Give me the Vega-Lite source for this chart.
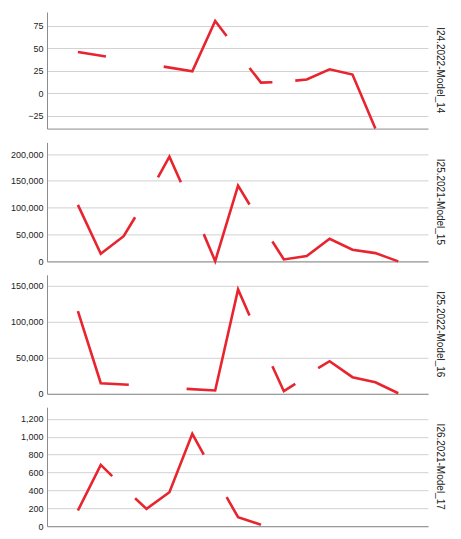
{
  "$schema": "https://vega.github.io/schema/vega-lite/v6.json",
  "padding": {"left": 10, "top": 12, "right": 5, "bottom": 5},
  "background": "white",
  "config": {
    "font": "Liberation Sans",
    "view": {"stroke": null},
    "axis": {"labelFontSize": 9, "labelColor": "#222222", "gridColor": "#d2d2d2", "gridWidth": 1, "domainColor": "#8c8c8c", "domainWidth": 1, "ticks": false, "tickSize": 0, "labelPadding": 4},
    "title": {"orient": "right", "angle": 90, "anchor": "middle", "fontSize": 10, "fontWeight": "normal", "color": "#222222", "font": "Liberation Sans", "offset": 7, "baseline": "top"},
    "line": {"color": "#e8242f", "strokeWidth": 2.6, "clip": true}
  },
  "data": {
    "values": [
      {"model": "I24.2022-Model_14", "seg": "a", "period": 0, "value": 45.7},
      {"model": "I24.2022-Model_14", "seg": "a", "period": 2.45, "value": 40.6},
      {"model": "I24.2022-Model_14", "seg": "b", "period": 7.5, "value": 29.5},
      {"model": "I24.2022-Model_14", "seg": "b", "period": 10, "value": 24.3},
      {"model": "I24.2022-Model_14", "seg": "b", "period": 12, "value": 80.0},
      {"model": "I24.2022-Model_14", "seg": "b", "period": 13, "value": 63.4},
      {"model": "I24.2022-Model_14", "seg": "c", "period": 15, "value": 28.0},
      {"model": "I24.2022-Model_14", "seg": "c", "period": 16, "value": 11.8},
      {"model": "I24.2022-Model_14", "seg": "c", "period": 17, "value": 12.2},
      {"model": "I24.2022-Model_14", "seg": "d", "period": 19, "value": 14.0},
      {"model": "I24.2022-Model_14", "seg": "d", "period": 20, "value": 15.2},
      {"model": "I24.2022-Model_14", "seg": "d", "period": 22, "value": 26.5},
      {"model": "I24.2022-Model_14", "seg": "d", "period": 24, "value": 20.7},
      {"model": "I24.2022-Model_14", "seg": "d", "period": 26, "value": -39},
      {"model": "I25.2021-Model_15", "seg": "a", "period": 0, "value": 105400},
      {"model": "I25.2021-Model_15", "seg": "a", "period": 2, "value": 14300},
      {"model": "I25.2021-Model_15", "seg": "a", "period": 4, "value": 47000},
      {"model": "I25.2021-Model_15", "seg": "a", "period": 5, "value": 82300},
      {"model": "I25.2021-Model_15", "seg": "b", "period": 7, "value": 156700},
      {"model": "I25.2021-Model_15", "seg": "b", "period": 8, "value": 195200},
      {"model": "I25.2021-Model_15", "seg": "b", "period": 9, "value": 147400},
      {"model": "I25.2021-Model_15", "seg": "c", "period": 11, "value": 50800},
      {"model": "I25.2021-Model_15", "seg": "c", "period": 12, "value": 600},
      {"model": "I25.2021-Model_15", "seg": "c", "period": 14, "value": 141300},
      {"model": "I25.2021-Model_15", "seg": "c", "period": 15, "value": 106000},
      {"model": "I25.2021-Model_15", "seg": "d", "period": 17, "value": 37200},
      {"model": "I25.2021-Model_15", "seg": "d", "period": 18, "value": 3700},
      {"model": "I25.2021-Model_15", "seg": "d", "period": 20, "value": 9900},
      {"model": "I25.2021-Model_15", "seg": "d", "period": 22, "value": 42200},
      {"model": "I25.2021-Model_15", "seg": "d", "period": 24, "value": 21700},
      {"model": "I25.2021-Model_15", "seg": "d", "period": 26, "value": 15400},
      {"model": "I25.2021-Model_15", "seg": "d", "period": 28, "value": 0},
      {"model": "I25.2022-Model_16", "seg": "a", "period": 0, "value": 114700},
      {"model": "I25.2022-Model_16", "seg": "a", "period": 2, "value": 14700},
      {"model": "I25.2022-Model_16", "seg": "a", "period": 4.45, "value": 12500},
      {"model": "I25.2022-Model_16", "seg": "b", "period": 9.5, "value": 6900},
      {"model": "I25.2022-Model_16", "seg": "b", "period": 12, "value": 4600},
      {"model": "I25.2022-Model_16", "seg": "b", "period": 14, "value": 144900},
      {"model": "I25.2022-Model_16", "seg": "b", "period": 15, "value": 108700},
      {"model": "I25.2022-Model_16", "seg": "c", "period": 17, "value": 38300},
      {"model": "I25.2022-Model_16", "seg": "c", "period": 18, "value": 3600},
      {"model": "I25.2022-Model_16", "seg": "c", "period": 19, "value": 13900},
      {"model": "I25.2022-Model_16", "seg": "d", "period": 21, "value": 35600},
      {"model": "I25.2022-Model_16", "seg": "d", "period": 22, "value": 45300},
      {"model": "I25.2022-Model_16", "seg": "d", "period": 24, "value": 23100},
      {"model": "I25.2022-Model_16", "seg": "d", "period": 26, "value": 16100},
      {"model": "I25.2022-Model_16", "seg": "d", "period": 28, "value": 800},
      {"model": "I26.2021-Model_17", "seg": "a", "period": 0, "value": 175},
      {"model": "I26.2021-Model_17", "seg": "a", "period": 2, "value": 686},
      {"model": "I26.2021-Model_17", "seg": "a", "period": 3, "value": 559},
      {"model": "I26.2021-Model_17", "seg": "b", "period": 5, "value": 313},
      {"model": "I26.2021-Model_17", "seg": "b", "period": 6, "value": 194},
      {"model": "I26.2021-Model_17", "seg": "b", "period": 8, "value": 380},
      {"model": "I26.2021-Model_17", "seg": "b", "period": 10, "value": 1032},
      {"model": "I26.2021-Model_17", "seg": "b", "period": 11, "value": 801},
      {"model": "I26.2021-Model_17", "seg": "c", "period": 13, "value": 324},
      {"model": "I26.2021-Model_17", "seg": "c", "period": 14, "value": 101},
      {"model": "I26.2021-Model_17", "seg": "c", "period": 16, "value": 16}
    ]
  },
  "bounds": "flush",
  "spacing": 13.4,
  "vconcat": [
    {
      "title": "I24.2022-Model_14",
      "transform": [{"filter": "datum.model === 'I24.2022-Model_14'"}],
      "width": 381, "height": 116.6,
      "mark": "line",
      "encoding": {
        "x": {"field": "period", "type": "quantitative", "scale": {"domain": [-2.7, 30.6], "nice": false, "zero": false}, "axis": {"labels": false, "grid": false, "title": null}},
        "y": {"field": "value", "type": "quantitative", "scale": {"domain": [-39.2, 90], "nice": false, "zero": false}, "axis": {"values": [-25, 0, 25, 50, 75], "format": ",d", "title": null}},
        "detail": {"field": "seg", "type": "nominal"}
      }
    },
    {
      "title": "I25.2021-Model_15",
      "transform": [{"filter": "datum.model === 'I25.2021-Model_15'"}],
      "width": 381, "height": 119,
      "mark": "line",
      "encoding": {
        "x": {"field": "period", "type": "quantitative", "scale": {"domain": [-2.7, 30.6], "nice": false, "zero": false}, "axis": {"labels": false, "grid": false, "title": null}},
        "y": {"field": "value", "type": "quantitative", "scale": {"domain": [0, 221700], "nice": false, "zero": false}, "axis": {"values": [0, 50000, 100000, 150000, 200000], "format": ",d", "title": null}},
        "detail": {"field": "seg", "type": "nominal"}
      }
    },
    {
      "title": "I25.2022-Model_16",
      "transform": [{"filter": "datum.model === 'I25.2022-Model_16'"}],
      "width": 381, "height": 119,
      "mark": "line",
      "encoding": {
        "x": {"field": "period", "type": "quantitative", "scale": {"domain": [-2.7, 30.6], "nice": false, "zero": false}, "axis": {"labels": false, "grid": false, "title": null}},
        "y": {"field": "value", "type": "quantitative", "scale": {"domain": [0, 165300], "nice": false, "zero": false}, "axis": {"values": [0, 50000, 100000, 150000], "format": ",d", "title": null}},
        "detail": {"field": "seg", "type": "nominal"}
      }
    },
    {
      "title": "I26.2021-Model_17",
      "transform": [{"filter": "datum.model === 'I26.2021-Model_17'"}],
      "width": 381, "height": 119,
      "mark": "line",
      "encoding": {
        "x": {"field": "period", "type": "quantitative", "scale": {"domain": [-2.7, 30.6], "nice": false, "zero": false}, "axis": {"labels": false, "grid": false, "title": null}},
        "y": {"field": "value", "type": "quantitative", "scale": {"domain": [0, 1330], "nice": false, "zero": false}, "axis": {"values": [0, 200, 400, 600, 800, 1000, 1200], "format": ",d", "title": null}},
        "detail": {"field": "seg", "type": "nominal"}
      }
    }
  ]
}
